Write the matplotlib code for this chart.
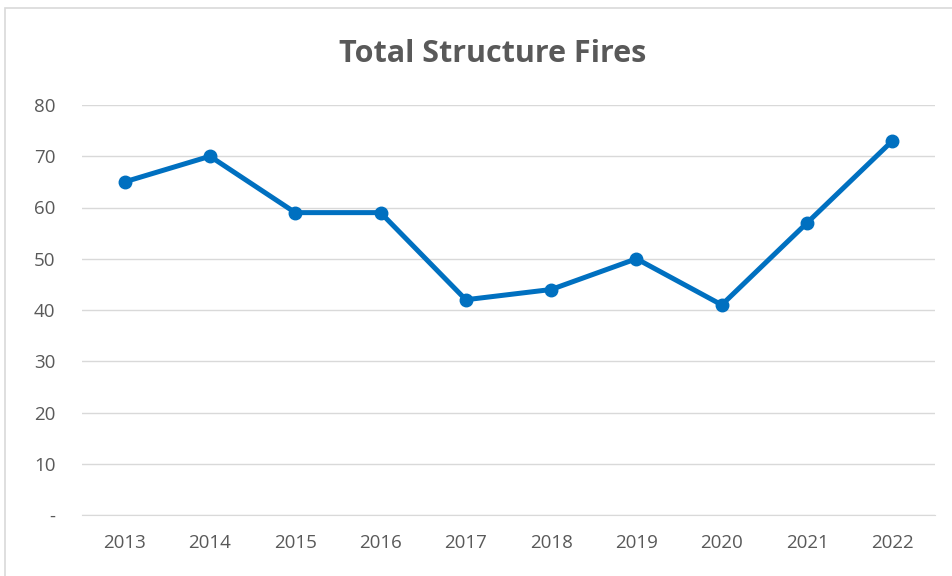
import numpy as np
import matplotlib.pyplot as plt
from matplotlib.patches import Rectangle

years = ['2013', '2014', '2015', '2016', '2017', '2018', '2019', '2020', '2021', '2022']
fires = [65, 70, 59, 59, 42, 44, 50, 41, 57, 73]
yticks = [0, 10, 20, 30, 40, 50, 60, 70, 80]
ylabels = ['-', '10', '20', '30', '40', '50', '60', '70', '80']

plt.rcParams['font.family'] = ['Open Sans', 'DejaVu Sans']

fig = plt.figure(figsize=(9.53, 5.76), dpi=100)
# chart border (extends past the right and bottom edges)
fig.patches.append(Rectangle((5/953, -0.1), 1.1, 1 - 8/576 + 0.1,
                             transform=fig.transFigure, fill=False,
                             edgecolor='#D9D9D9', linewidth=1.2))

ax = fig.add_axes([82/953, 1 - 515/576, (935 - 82)/953, (515 - 105)/576])
x = np.arange(len(years))
ax.plot(x, fires, color='#0070C0', linewidth=3.6, marker='o', markersize=9,
        solid_joinstyle='round', zorder=3)

ax.set_xlim(-0.5, len(years) - 0.5)
ax.set_ylim(0, 80)
ax.set_yticks(yticks)
ax.set_yticklabels(ylabels)
ax.set_xticks(x)
ax.set_xticklabels(years)
ax.grid(axis='y', color='#D9D9D9', linewidth=1)
ax.set_axisbelow(True)
for s in ['top', 'right', 'left']:
    ax.spines[s].set_visible(False)
ax.spines['bottom'].set_color('#D9D9D9')
ax.tick_params(length=0, colors='#595959', labelsize=13.5)
ax.tick_params(axis='y', pad=19)
ax.tick_params(axis='x', pad=14)

fig.text(493/953, 1 - 54/576, 'Total Structure Fires', ha='center', va='center',
         fontsize=22, fontweight='bold', color='#595959')

fig.savefig('out.png', dpi=100)
